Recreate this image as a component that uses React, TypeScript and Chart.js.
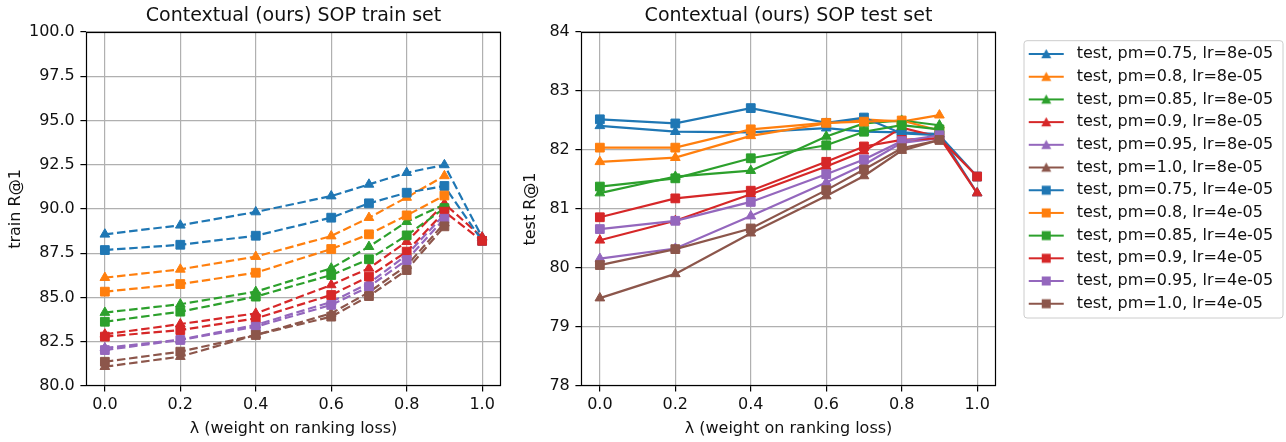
import React, { useEffect, useRef } from 'react';
import { Chart, registerables } from 'chart.js';

Chart.register(...registerables);

// ---- data ----
const LAMBDAS = [0, 0.2, 0.4, 0.6, 0.7, 0.8, 0.9, 1.0];
const X_TICKS = [0, 0.2, 0.4, 0.6, 0.8, 1.0];
const TRAIN_Y_TICKS = [80, 82.5, 85, 87.5, 90, 92.5, 95, 97.5, 100];
const TEST_Y_TICKS = [78, 79, 80, 81, 82, 83, 84];
const PMS = ['0.75', '0.8', '0.85', '0.9', '0.95', '1.0'];
const LRS = ['8e-05', '4e-05'];

// train R@1, lr=8e-05 (triangles)
const TRAIN_PM075_LR8 = [88.57, 89.08, 89.83, 90.73, 91.39, 92.05, 92.49, 88.4];
const TRAIN_PM080_LR8 = [86.12, 86.59, 87.31, 88.47, 89.51, 90.65, 91.87, null];
const TRAIN_PM085_LR8 = [84.15, 84.62, 85.33, 86.65, 87.87, 89.28, 90.25, null];
const TRAIN_PM090_LR8 = [82.92, 83.5, 84.1, 85.71, 86.65, 88.15, 90.3, 88.4];
const TRAIN_PM095_LR8 = [82.15, 82.62, 83.45, 84.75, 85.8, 87.4, 89.7, null];
const TRAIN_PM100_LR8 = [81.09, 81.66, 82.88, 84.1, 85.3, 86.8, 89.2, null];
// train R@1, lr=4e-05 (squares)
const TRAIN_PM075_LR4 = [87.68, 87.98, 88.49, 89.51, 90.32, 90.92, 91.3, 88.2];
const TRAIN_PM080_LR4 = [85.33, 85.76, 86.4, 87.74, 88.57, 89.64, 90.76, null];
const TRAIN_PM085_LR4 = [83.63, 84.2, 85.05, 86.27, 87.16, 88.51, 90.05, null];
const TRAIN_PM090_LR4 = [82.79, 83.16, 83.82, 85.14, 86.18, 87.59, 89.85, 88.2];
const TRAIN_PM095_LR4 = [82.03, 82.6, 83.35, 84.58, 85.61, 87.12, 89.45, null];
const TRAIN_PM100_LR4 = [81.37, 81.94, 82.88, 83.92, 85.08, 86.55, 89.02, null];

// test R@1, lr=8e-05 (triangles)
const TEST_PM075_LR8 = [82.41, 82.31, 82.3, 82.37, 82.31, 82.3, 82.27, 81.27];
const TEST_PM080_LR8 = [81.8, 81.87, 82.24, 82.45, 82.52, 82.48, 82.59, null];
const TEST_PM085_LR8 = [81.27, 81.55, 81.65, 82.23, 82.45, 82.5, 82.42, null];
const TEST_PM090_LR8 = [80.47, 80.8, 81.25, 81.72, 81.98, 82.38, 82.22, 81.27];
const TEST_PM095_LR8 = [80.16, 80.33, 80.88, 81.45, 81.75, 82.12, 82.2, null];
const TEST_PM100_LR8 = [79.49, 79.9, 80.59, 81.22, 81.56, 81.99, 82.17, null];
// test R@1, lr=4e-05 (squares)
const TEST_PM075_LR4 = [82.52, 82.45, 82.71, 82.46, 82.55, 82.28, 82.25, 81.55];
const TEST_PM080_LR4 = [82.04, 82.04, 82.35, 82.46, 82.48, 82.5, 82.33, null];
const TEST_PM085_LR4 = [81.38, 81.52, 81.86, 82.08, 82.31, 82.42, 82.35, null];
const TEST_PM090_LR4 = [80.86, 81.18, 81.31, 81.8, 82.06, 82.17, 82.2, 81.55];
const TEST_PM095_LR4 = [80.66, 80.8, 81.12, 81.59, 81.84, 82.15, 82.25, null];
const TEST_PM100_LR4 = [80.05, 80.32, 80.67, 81.32, 81.67, 82.03, 82.17, null];

const TRAIN_SERIES = [
  TRAIN_PM075_LR8, TRAIN_PM080_LR8, TRAIN_PM085_LR8, TRAIN_PM090_LR8, TRAIN_PM095_LR8, TRAIN_PM100_LR8,
  TRAIN_PM075_LR4, TRAIN_PM080_LR4, TRAIN_PM085_LR4, TRAIN_PM090_LR4, TRAIN_PM095_LR4, TRAIN_PM100_LR4,
];
const TEST_SERIES = [
  TEST_PM075_LR8, TEST_PM080_LR8, TEST_PM085_LR8, TEST_PM090_LR8, TEST_PM095_LR8, TEST_PM100_LR8,
  TEST_PM075_LR4, TEST_PM080_LR4, TEST_PM085_LR4, TEST_PM090_LR4, TEST_PM095_LR4, TEST_PM100_LR4,
];

const COLORS = ['#1f77b4', '#ff7f0e', '#2ca02c', '#d62728', '#9467bd', '#8c564b'];
const FONT = '"DejaVu Sans", sans-serif';
const TEXT_COLOR = '#111';
const BASE_FONT = 16;
const TITLE_FONT = 19;
const LEGEND_FONT = 16;
const LEGEND_PAD = 6.7;
const LEGEND_BOX_W = 290;

function labelFor(i: number) {
  const pm = PMS[i % 6];
  const lr = LRS[Math.floor(i / 6)];
  return `test, pm=${pm}, lr=${lr}`;
}

function buildDatasets(series: (number | null)[][], dashed: boolean) {
  return series.map((vals, i) => {
    const color = COLORS[i % 6];
    const tri = i < 6;
    const data = LAMBDAS.map((x, j) => (vals[j] == null ? null : { x, y: vals[j] as number })).filter(
      (p) => p !== null
    ) as { x: number; y: number }[];
    return {
      label: labelFor(i),
      data,
      borderColor: color,
      backgroundColor: color,
      pointBackgroundColor: color,
      pointBorderColor: color,
      borderWidth: 2.2,
      borderDash: dashed ? [8.5, 3.7] : [],
      pointStyle: tri ? 'triangle' : 'rect',
      pointRadius: tri ? 5.6 : 6.2,
      pointHoverRadius: tri ? 5.6 : 6.2,
      pointBorderWidth: 1,
      tension: 0,
      fill: false,
      order: series.length - 1 - i,
    };
  });
}

function makeIcon(color: string, tri: boolean) {
  const c = document.createElement('canvas');
  c.width = 66;
  c.height = 14;
  const g = c.getContext('2d')!;
  g.strokeStyle = color;
  g.lineWidth = 2.2;
  g.beginPath();
  g.moveTo(26, 7);
  g.lineTo(61, 7);
  g.stroke();
  g.fillStyle = color;
  if (tri) {
    g.beginPath();
    g.moveTo(43.5, 2);
    g.lineTo(48.5, 11.2);
    g.lineTo(38.5, 11.2);
    g.closePath();
    g.fill();
  } else {
    g.fillRect(39, 2.5, 9, 9);
  }
  return c;
}

const framePlugin = {
  id: 'axesFrame',
  afterDraw(chart: any) {
    const { ctx, chartArea } = chart;
    const l = Math.round(chartArea.left) + 0.5;
    const t = Math.round(chartArea.top) + 0.5;
    const r = Math.round(chartArea.right) - 0.5;
    const b = Math.round(chartArea.bottom) - 0.5;
    ctx.save();
    ctx.strokeStyle = '#000';
    ctx.lineWidth = 1.2;
    ctx.strokeRect(l, t, r - l, b - t);
    ctx.restore();
  },
};

const legendWidthPlugin = {
  id: 'legendWidth',
  beforeLayout(chart: any) {
    const lg = chart.legend;
    if (lg && !lg.__fixedWidth) {
      const orig = lg.fit;
      lg.fit = function () {
        orig.call(this);
        this.width = LEGEND_BOX_W;
      };
      lg.__fixedWidth = true;
    }
  },
};

const legendFramePlugin = {
  id: 'legendFrame',
  afterDraw(chart: any) {
    const lg = chart.legend;
    if (!lg || !lg.legendHitBoxes || !lg.legendHitBoxes.length) return;
    const hbs = lg.legendHitBoxes;
    const first = hbs[0];
    const last = hbs[hbs.length - 1];
    const x0 = first.left + 21.3;
    const x1 = first.left + 280.3;
    const y0 = first.top + LEGEND_FONT / 2 - 13.3;
    const y1 = last.top + LEGEND_FONT / 2 + 14.3;
    const { ctx } = chart;
    ctx.save();
    ctx.strokeStyle = '#cccccc';
    ctx.lineWidth = 1;
    ctx.beginPath();
    if (ctx.roundRect) ctx.roundRect(x0, y0, x1 - x0, y1 - y0, 3);
    else ctx.rect(x0, y0, x1 - x0, y1 - y0);
    ctx.stroke();
    ctx.restore();
  },
};

function scalesFor(yTicks: number[], yDecimals: number, yTitle: string, yWidth: number, yTitlePad: number) {
  const grid = { color: '#b0b0b0', lineWidth: 1.2, tickColor: '#000', tickLength: 5.6, tickWidth: 1.2 };
  return {
    x: {
      type: 'linear' as const,
      min: -0.05,
      max: 1.05,
      afterBuildTicks: (scale: any) => {
        scale.ticks = X_TICKS.map((v) => ({ value: v }));
      },
      afterFit: (scale: any) => {
        scale.height = 56;
      },
      ticks: {
        callback: (v: any) => Number(v).toFixed(1),
        font: { family: FONT, size: BASE_FONT },
        color: TEXT_COLOR,
        padding: 4,
        maxRotation: 0,
        autoSkip: false,
      },
      grid,
      border: { display: false },
      title: {
        display: true,
        text: 'λ (weight on ranking loss)',
        font: { family: FONT, size: BASE_FONT },
        color: TEXT_COLOR,
        padding: { top: 3.4, bottom: 3.4 },
      },
    },
    y: {
      type: 'linear' as const,
      min: yTicks[0],
      max: yTicks[yTicks.length - 1],
      afterBuildTicks: (scale: any) => {
        scale.ticks = yTicks.map((v) => ({ value: v }));
      },
      afterFit: (scale: any) => {
        scale.width = yWidth;
      },
      ticks: {
        callback: (v: any) => Number(v).toFixed(yDecimals),
        font: { family: FONT, size: BASE_FONT },
        color: TEXT_COLOR,
        padding: 5.6,
        autoSkip: false,
      },
      grid,
      border: { display: false },
      title: {
        display: true,
        text: yTitle,
        font: { family: FONT, size: BASE_FONT },
        color: TEXT_COLOR,
        padding: { top: yTitlePad, bottom: yTitlePad },
      },
    },
  };
}

const titleOpts = (text: string) => ({
  display: true,
  text,
  fullSize: false,
  font: { family: FONT, size: TITLE_FONT, weight: 'normal' as any, lineHeight: 1.2 },
  color: TEXT_COLOR,
  padding: { top: 4.6, bottom: 4.6 },
});

export default function App() {
  const leftRef = useRef<HTMLCanvasElement>(null);
  const rightRef = useRef<HTMLCanvasElement>(null);

  useEffect(() => {
    document.body.style.margin = '0';
    Chart.defaults.font.family = FONT;
    Chart.defaults.color = TEXT_COLOR;

    const left = new Chart(leftRef.current!, {
      type: 'line',
      data: { datasets: buildDatasets(TRAIN_SERIES, true) as any },
      options: {
        responsive: false,
        animation: false,
        events: [],
        layout: { padding: { left: 0, right: 9, top: 0, bottom: 0 } },
        scales: scalesFor(TRAIN_Y_TICKS, 1, 'train R@1', 86, 6.4) as any,
        plugins: {
          legend: { display: false },
          tooltip: { enabled: false },
          title: titleOpts('Contextual (ours) SOP train set'),
        },
      },
      plugins: [framePlugin],
    });

    const icons = Array.from({ length: 12 }, (_, i) => makeIcon(COLORS[i % 6], i < 6));

    const right = new Chart(rightRef.current!, {
      type: 'line',
      data: { datasets: buildDatasets(TEST_SERIES, false) as any },
      options: {
        responsive: false,
        animation: false,
        events: [],
        layout: { padding: { left: 0, right: 0, top: 0, bottom: 0 } },
        scales: scalesFor(TEST_Y_TICKS, 0, 'test R@1', 71, 10.9) as any,
        plugins: {
          tooltip: { enabled: false },
          title: titleOpts('Contextual (ours) SOP test set'),
          legend: {
            display: true,
            position: 'right',
            align: 'start',
            fullSize: false,
            maxWidth: 400,
            title: {
              display: true,
              text: '',
              font: { size: 1, lineHeight: 1 },
              padding: { top: 6.3, bottom: 0 },
            },
            labels: {
              usePointStyle: true,
              pointStyleWidth: 66,
              padding: LEGEND_PAD,
              color: TEXT_COLOR,
              font: { family: FONT, size: LEGEND_FONT },
              generateLabels: (chart: any) =>
                chart.data.datasets.map((ds: any, i: number) => ({
                  text: ds.label,
                  datasetIndex: i,
                  pointStyle: icons[i],
                  fillStyle: ds.borderColor,
                  strokeStyle: ds.borderColor,
                  fontColor: TEXT_COLOR,
                  lineWidth: 0,
                  hidden: false,
                })),
            },
          } as any,
        },
      },
      plugins: [legendWidthPlugin, framePlugin, legendFramePlugin],
    });

    return () => {
      left.destroy();
      right.destroy();
    };
  }, []);

  return (
    <div style={{ position: 'relative', width: 1286, height: 442, background: '#fff' }}>
      <canvas ref={leftRef} width={510} height={442} style={{ position: 'absolute', left: 0, top: 0 }} />
      <canvas ref={rightRef} width={776} height={442} style={{ position: 'absolute', left: 510, top: 0 }} />
    </div>
  );
}
